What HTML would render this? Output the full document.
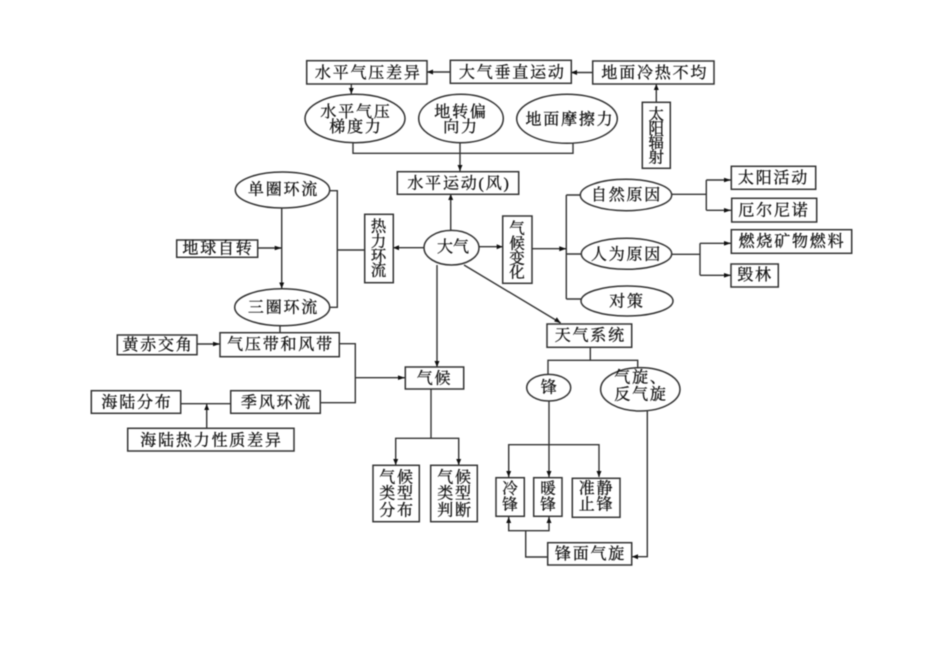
<!DOCTYPE html>
<html lang="zh">
<head>
<meta charset="utf-8">
<title>大气</title>
<style>
html,body{margin:0;padding:0;background:#fff;width:950px;height:672px;overflow:hidden}
svg{display:block;filter:blur(.45px)}
text{font-family:"Liberation Serif","Noto Serif CJK SC",serif;font-size:16px;fill:#111;text-anchor:middle;dominant-baseline:central;letter-spacing:1.8px;stroke:#111;stroke-width:.3px}
.v{letter-spacing:0;font-size:15.5px}
.b{fill:#fff;stroke:#333;stroke-width:1.5}
.l{fill:none;stroke:#333;stroke-width:1.4}
.a{fill:#111;stroke:none}
</style>
</head>
<body>
<svg width="950" height="672" viewBox="0 0 950 672" xmlns="http://www.w3.org/2000/svg">
<!-- connectors -->
<g class="l">
<path d="M450 72H427M592.500 72.500H571M656.300 102V84M351.300 84V94"/>
<path d="M353 142V153.300H573V142M460 142V171"/>
<path d="M450.700 231V194M424 247.700H393M479 246.700H502.700M532 248.700H566.300"/>
<path d="M330 190.700H337.300V307.300H330M337.300 250H365"/>
<path d="M281.700 208V288.500M257.700 248H281.700M280 325.700V333M197 344H220"/>
<path d="M339.300 343.700H355.300V402.700H320.300M355.300 377.700H405M180.700 403.700H230.700M206.700 428.300V404"/>
<path d="M437 265V367M431 389V438.300M395.700 465V438.300H458.700V465"/>
<path d="M464 265L560.700 323"/>
<path d="M566.300 195V299M566.300 195H580.500M566.300 254H581.500M566.300 299H581"/>
<path d="M671.700 194.300H706.300M706.300 180V210.300M706.300 180H731M706.300 210.300H731"/>
<path d="M671.700 254.300H700M700 243.300V275.300M700 243.300H731M700 275.300H731"/>
<path d="M590.300 347.300V360.300M548 374.500V360.300H637.700V372"/>
<path d="M549 401V477M508.700 477V444.700H599V477"/>
<path d="M647.300 411V556.700H632"/>
<path d="M547.700 557H525.700V530.700M508.700 517V530.700H549V517"/>
</g>
<!-- arrowheads -->
<g class="a">
<path d="M427 72l6-2.500v5zM571 72.500l6-2.500v5zM656.300 84l-2.500 6h5zM351.300 94l-2.500-6h5z"/>
<path d="M460 171l-2.500-6h5zM450.700 194l-2.500 6h5zM393 247.700l6-2.500v5zM502.700 246.700l-6-2.500v5zM566.300 248.700l-7-2.500v5z"/>
<path d="M281.700 288.500l-2.500-6h5zM281.700 248l-7-2.300v4.600zM220 344l-7-2.300v4.600zM405 377.700l-7-2.300v4.600zM206.700 404l-2.500 6h5z"/>
<path d="M437 367l-2.500-6h5zM395.700 465l-2.500-6h5zM458.700 465l-2.500-6h5zM560.700 323l-6.500-1.500 2.600-4.300z"/>
<path d="M731 180l-7-2.300v4.600zM731 210.300l-7-2.300v4.600zM731 243.300l-7-2.300v4.600zM731 275.300l-7-2.300v4.600z"/>
<path d="M549 477l-2.500-6h5zM508.700 477l-2.500-6h5zM599 477l-2.500-6h5zM632 556.700l6-2.500v5zM508.700 517l-2.500 6h5zM549 517l-2.500 6h5z"/>
</g>
<!-- boxes -->
<g class="b">
<rect x="306.700" y="60.700" width="120.300" height="23.300"/>
<rect x="450.300" y="60.300" width="121" height="23"/>
<rect x="592.700" y="61" width="121.300" height="23"/>
<rect x="642.300" y="102.300" width="28" height="66"/>
<rect x="397.300" y="171.700" width="121.400" height="22.600"/>
<rect x="364.700" y="214.300" width="28.600" height="68.400"/>
<rect x="502.700" y="216" width="29.300" height="67.300"/>
<rect x="176.700" y="240" width="81" height="17.300"/>
<rect x="220" y="332.700" width="119.300" height="24"/>
<rect x="117.300" y="335" width="79.700" height="19.700"/>
<rect x="405.300" y="367" width="58.400" height="22"/>
<rect x="230.700" y="390.700" width="89.600" height="22.600"/>
<rect x="91.300" y="390.700" width="89.400" height="22.600"/>
<rect x="127.700" y="428.300" width="166.300" height="22.700"/>
<rect x="373" y="465.300" width="46.300" height="56.400"/>
<rect x="430.700" y="465.300" width="46.600" height="56.400"/>
<rect x="547" y="324" width="84.700" height="23.300"/>
<rect x="496" y="477.700" width="28.300" height="38.600"/>
<rect x="533.700" y="477.700" width="28.300" height="38.600"/>
<rect x="572.300" y="478.300" width="47.700" height="39"/>
<rect x="547.700" y="542.700" width="84" height="22.300"/>
<rect x="731.300" y="166.300" width="84.400" height="23"/>
<rect x="731.700" y="198.300" width="85" height="23.700"/>
<rect x="731.300" y="229.700" width="120.400" height="23.600"/>
<rect x="731" y="264" width="47.300" height="23"/>
<!-- ellipses -->
<ellipse cx="355" cy="118.500" rx="50" ry="24.200"/>
<ellipse cx="461" cy="118.500" rx="42.300" ry="24.200"/>
<ellipse cx="567" cy="118.800" rx="50.300" ry="24.500"/>
<ellipse cx="451.500" cy="247.700" rx="27.500" ry="17.300"/>
<ellipse cx="282.500" cy="190" rx="47.200" ry="18"/>
<ellipse cx="282.200" cy="307.200" rx="47.500" ry="18.500"/>
<ellipse cx="548.700" cy="387.700" rx="22" ry="13.300"/>
<ellipse cx="640.300" cy="389.300" rx="39.700" ry="21.700"/>
<ellipse cx="626" cy="195" rx="45.700" ry="15.700"/>
<ellipse cx="626.500" cy="253.800" rx="45.200" ry="15.500"/>
<ellipse cx="627" cy="301" rx="46" ry="15"/>
</g>
<!-- labels -->
<g transform="translate(0,1)">
<text x="368.300" y="72.300">水平气压差异</text>
<text x="512.300" y="72">大气垂直运动</text>
<text x="654.800" y="72.300">地面冷热不均</text>
<text class="v" x="656.300" y="114">太</text>
<text class="v" x="656.300" y="128">阳</text>
<text class="v" x="656.300" y="142">辐</text>
<text class="v" x="656.300" y="157">射</text>
<text x="356" y="111.700">水平气压</text>
<text x="356" y="126.700">梯度力</text>
<text x="461" y="111.700">地转偏</text>
<text x="461" y="126.700">向力</text>
<text x="570" y="119">地面摩擦力</text>
<text x="459" y="183">水平运动(风)</text>
<text x="453" y="246.700" style="letter-spacing:0">大气</text>
<text class="v" x="378.500" y="226">热</text>
<text class="v" x="378.500" y="241">力</text>
<text class="v" x="378.500" y="255.500">环</text>
<text class="v" x="378.500" y="270">流</text>
<text class="v" x="517" y="228">气</text>
<text class="v" x="517" y="243">候</text>
<text class="v" x="517" y="258">变</text>
<text class="v" x="517" y="272">化</text>
<text x="283.500" y="189">单圈环流</text>
<text x="283.500" y="307">三圈环流</text>
<text x="218" y="248">地球自转</text>
<text x="280.500" y="344">气压带和风带</text>
<text x="158" y="344.500">黄赤交角</text>
<text x="434.500" y="378">气候</text>
<text x="276.500" y="402">季风环流</text>
<text x="137" y="402">海陆分布</text>
<text x="211.500" y="440">海陆热力性质差异</text>
<text x="397" y="477">气候</text>
<text x="397" y="493">类型</text>
<text x="397" y="510">分布</text>
<text x="455" y="477">气候</text>
<text x="455" y="493">类型</text>
<text x="455" y="510">判断</text>
<text x="590.300" y="335">天气系统</text>
<text x="548.700" y="387" style="letter-spacing:0">锋</text>
<text class="v" x="510" y="488">冷</text>
<text class="v" x="510" y="504">锋</text>
<text class="v" x="548" y="488">暖</text>
<text class="v" x="548" y="504">锋</text>
<text x="596.500" y="488">准静</text>
<text x="596.500" y="504">止锋</text>
<text x="641" y="377">气旋、</text>
<text x="641" y="394">反气旋</text>
<text x="590.500" y="553.500">锋面气旋</text>
<text x="626.500" y="194.500">自然原因</text>
<text x="626.500" y="254">人为原因</text>
<text x="627" y="301">对策</text>
<text x="773.500" y="177.500">太阳活动</text>
<text x="774" y="210">厄尔尼诺</text>
<text x="792" y="241">燃烧矿物燃料</text>
<text x="755" y="274.500">毁林</text>
</g>
</svg>
</body>
</html>
